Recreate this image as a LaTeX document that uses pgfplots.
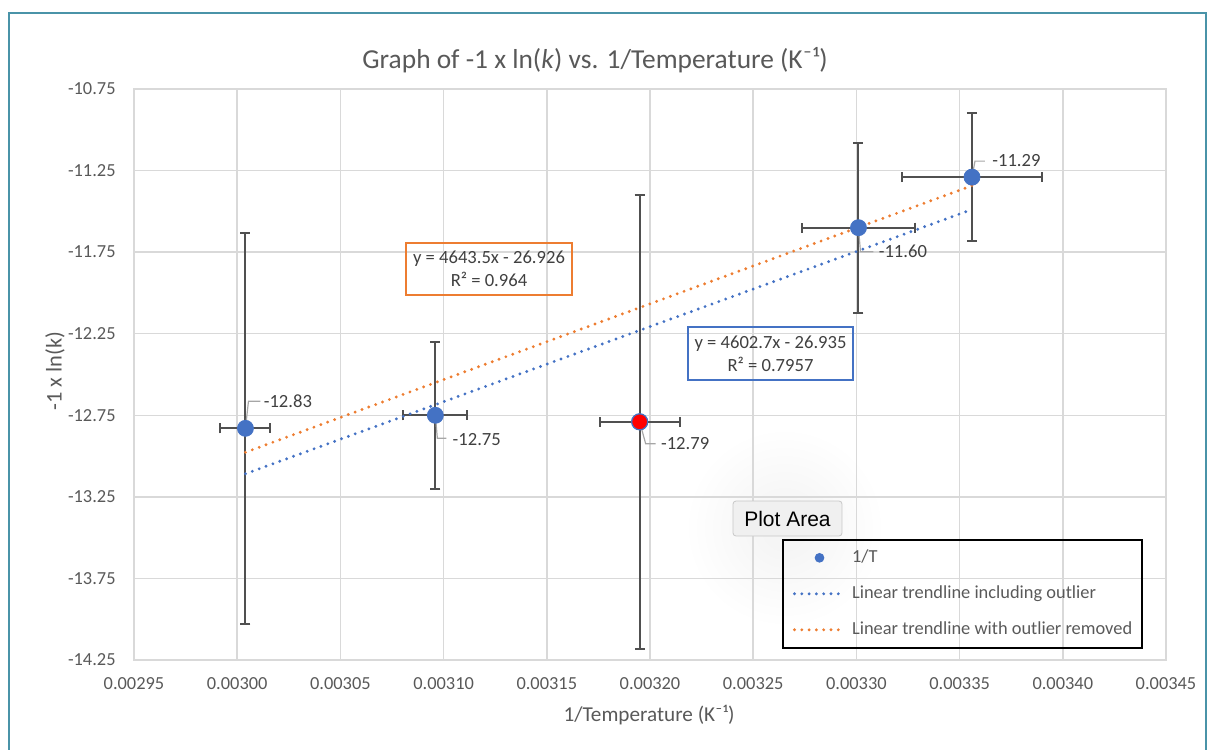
\documentclass[border=0pt]{standalone}
\usepackage{pgfplots}
\pgfplotsset{compat=1.18}
\usepackage{fontspec}
\setmainfont{Carlito}
\newfontfamily\uifont{Liberation Sans}
\definecolor{tickgray}{HTML}{595959}
\definecolor{gridgray}{HTML}{D9D9D9}
\definecolor{mkblue}{HTML}{4472C4}
\definecolor{trorange}{HTML}{ED7D31}
\definecolor{errgray}{HTML}{505050}
\definecolor{labelgray}{HTML}{404040}
\definecolor{leadgray}{HTML}{A6A6A6}
\definecolor{bordteal}{HTML}{4A93A8}
\definecolor{tipfill}{HTML}{F0F0F0}
\definecolor{tipborder}{HTML}{C8C8C8}
\tikzset{
  dotline/.style={line width=1.6pt, line cap=round, dash pattern=on 0pt off 3.65pt},
  dlabel/.style={anchor=west, inner sep=0pt, font=\fontsize{9.3}{11}\selectfont, text=labelgray},
  leader/.style={draw=leadgray, line width=0.6pt}
}
\begin{document}
\begin{tikzpicture}
\begin{scope}[x=0.5pt,y=-0.5pt]
\useasboundingbox (0,0) rectangle (1209,749);
\foreach \r in {96,88,...,24} {\fill[black, opacity=0.005] (785,528) circle (\r);}
\end{scope}
\begin{axis}[
  at={(67pt,-330pt)}, anchor=south west,
  scale only axis, width=516pt, height=285.5pt,
  xmin=0.00295, xmax=0.00345, ymin=-14.25, ymax=-10.75,
  xtick={0.00295,0.00300,0.00305,0.00310,0.00315,0.00320,0.00325,0.00330,0.00335,0.00340,0.00345},
  xticklabels={0.00295,0.00300,0.00305,0.00310,0.00315,0.00320,0.00325,0.00330,0.00335,0.00340,0.00345},
  ytick={-14.25,-13.75,-13.25,-12.75,-12.25,-11.75,-11.25,-10.75},
  yticklabels={-14.25,-13.75,-13.25,-12.75,-12.25,-11.75,-11.25,-10.75},
  scaled x ticks=false, scaled y ticks=false,
  grid=major,
  major grid style={draw=gridgray, line width=0.75pt},
  axis line style={draw=gridgray, line width=0.75pt},
  major tick length=0pt,
  tick style={draw=none},
  ticklabel style={font=\fontsize{9.2}{11}\selectfont, text=tickgray, inner sep=0pt},
  xticklabel style={yshift=-8.5pt},
  yticklabel style={xshift=-9pt},
  clip=false,
  legend cell align=left,
  legend style={at={(rel axis cs:0.628,0.2119)}, anchor=north west, draw=black, line width=0.8pt,
    fill=none, inner xsep=5pt, inner ysep=1pt, font=\fontsize{9.2}{11}\selectfont, text=tickgray,
    row sep=2pt, nodes={inner sep=0pt, minimum height=16pt},
    /tikz/every odd column/.append style={column sep=3pt}},
]
\addplot[only marks, mark=*, mark size=4pt, mark options={fill=mkblue, draw=mkblue},
  legend image code/.code={\fill[mkblue] (12.5pt,0pt) circle (2pt);},
  error bars/.cd, x dir=both, x explicit, y dir=both, y explicit,
  error mark=|,
  error bar style={draw=errgray, line width=1pt},
  error mark options={draw=errgray, line width=1pt, mark size=2.5pt}]
  table[x=x, y=y, x error=ex, y error=ey] {
x y ex ey
0.003004 -12.83 0.0000121 1.20
0.003096 -12.75 0.0000155 0.45
0.003195 -12.79 0.0000194 1.39
0.003301 -11.60 0.0000276 0.52
0.003356 -11.29 0.0000337 0.39
};
\addlegendentry{1/T}
\addplot[only marks, mark=*, mark size=4pt, mark options={fill=red, draw=mkblue, line width=0.6pt}, forget plot]
  coordinates {(0.003195,-12.79)};
\addplot[draw=mkblue, dotline,
  legend image code/.code={\draw[mkblue, dotline] (0pt,0pt) -- (25pt,0pt);}]
  coordinates {(0.003004,-13.1085) (0.003356,-11.4883)};
\addlegendentry{Linear trendline including outlier}
\addplot[draw=trorange, dotline,
  legend image code/.code={\draw[trorange, dotline] (0pt,0pt) -- (25pt,0pt);}]
  coordinates {(0.003004,-12.9769) (0.003356,-11.3424)};
\addlegendentry{Linear trendline with outlier removed}
% data labels with leader lines
\draw[leader] (axis cs:0.003004,-12.83) -- ++(1.5pt,13.5pt) -- ++(6pt,0pt);
\node[dlabel, xshift=9pt, yshift=13.5pt] at (axis cs:0.003004,-12.83) {-12.83};
\draw[leader] (axis cs:0.003096,-12.75) -- ++(1pt,-11.5pt) -- ++(4.5pt,0pt);
\node[dlabel, xshift=8.5pt, yshift=-12pt] at (axis cs:0.003096,-12.75) {-12.75};
\draw[leader] (axis cs:0.003195,-12.79) -- ++(3pt,-11pt) -- ++(5pt,0pt);
\node[dlabel, xshift=10.5pt, yshift=-11pt] at (axis cs:0.003195,-12.79) {-12.79};
\draw[leader] (axis cs:0.003301,-11.60) -- ++(1pt,-12pt) -- ++(6.5pt,0pt);
\node[dlabel, xshift=10pt, yshift=-12pt] at (axis cs:0.003301,-11.60) {-11.60};
\draw[leader] (axis cs:0.003356,-11.29) -- ++(1.5pt,8pt) -- ++(5pt,0pt);
\node[dlabel, xshift=10pt, yshift=8.5pt] at (axis cs:0.003356,-11.29) {-11.29};
\end{axis}
\begin{scope}[x=0.5pt,y=-0.5pt]
\node[anchor=base, inner sep=0pt, font=\fontsize{13.7}{15}\selectfont, text=tickgray] at (595,69)
  {Graph of -1 x ln(\textit{k}) vs. 1/Temperature (K⁻¹)};
\node[anchor=base, inner sep=0pt, font=\fontsize{10.6}{12}\selectfont, text=tickgray] at (649,721)
  {1/Temperature (K⁻¹)};
\node[rotate=90, inner sep=0pt, font=\fontsize{11.2}{12}\selectfont, text=tickgray] at (55,371)
  {-1 x ln(k)};
\node[draw=trorange, line width=0.75pt, minimum width=83pt, minimum height=26pt, align=center,
  inner sep=0pt, font=\fontsize{9.3}{11.5}\selectfont, text=labelgray] at (489,269)
  {y = 4643.5x - 26.926\\R² = 0.964};
\node[draw=mkblue, line width=0.75pt, minimum width=82.5pt, minimum height=26.5pt, align=center,
  inner sep=0pt, font=\fontsize{9.3}{11.5}\selectfont, text=labelgray] at (770.5,353.5)
  {y = 4602.7x - 26.935\\R² = 0.7957};
\node[draw=tipborder, fill=tipfill, rounded corners=1.5pt, minimum width=54.5pt, minimum height=17.5pt,
  inner sep=0pt, font=\uifont\fontsize{10.5}{12}\selectfont, text=black] at (787.5,518.5) {Plot Area};
\begin{scope}
\clip (0,0) rectangle (1209,749);
\draw[bordteal, line width=1pt] (9,760) -- (9,13) -- (1206,13) -- (1206,760);
\end{scope}
\end{scope}
\end{tikzpicture}
\end{document}
